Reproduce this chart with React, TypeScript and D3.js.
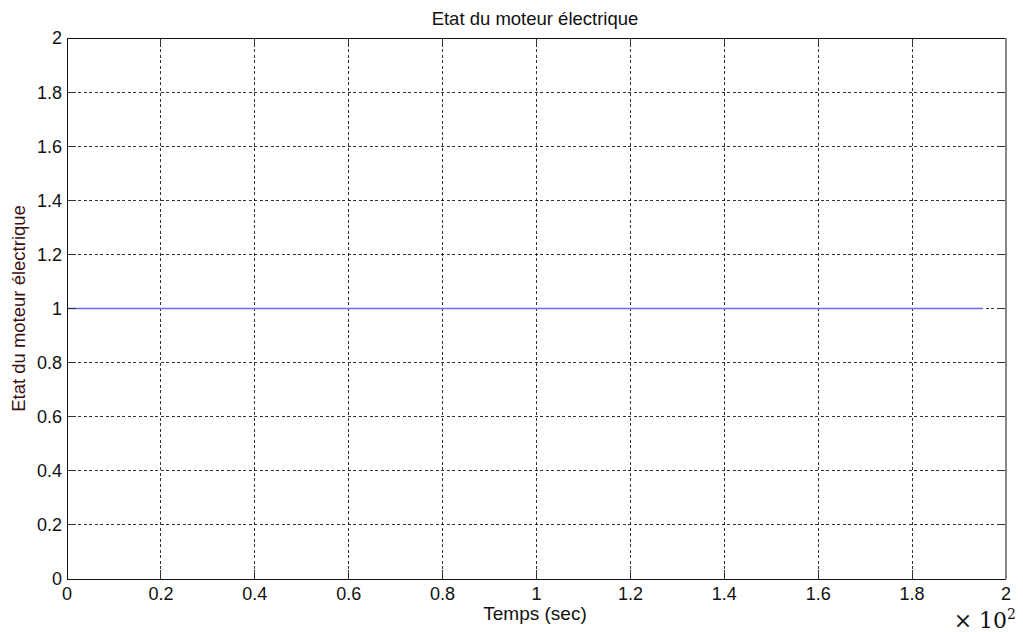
import React from "react";
import * as d3 from "d3";

const timeSec: number[] = [0, 25, 50, 75, 100, 125, 150, 175, 195];
const motorState: number[] = [1, 1, 1, 1, 1, 1, 1, 1, 1];
const xTicks: number[] = [0, 0.2, 0.4, 0.6, 0.8, 1, 1.2, 1.4, 1.6, 1.8, 2];
const yTicks: number[] = [0, 0.2, 0.4, 0.6, 0.8, 1, 1.2, 1.4, 1.6, 1.8, 2];
const titleText = "Etat du moteur électrique";
const yLabelText = "Etat du moteur électrique";
const xLabelText = "Temps (sec)";
const xScaleFactor = 100;

const W = 1023;
const H = 632;
const M = { left: 67, right: 1006, top: 38, bottom: 579 };

export default function App() {
  const x = d3.scaleLinear().domain([0, 2]).range([M.left, M.right]);
  const y = d3.scaleLinear().domain([0, 2]).range([M.bottom, M.top]);
  const pts = timeSec.map((t, i) => [t / xScaleFactor, motorState[i]] as [number, number]);
  const line = d3
    .line<[number, number]>()
    .x((d) => x(d[0]))
    .y((d) => y(d[1]));
  const font = "'Liberation Sans', Arial, Helvetica, sans-serif";
  const fmt = (v: number) => d3.format("~g")(v);
  const fs = 18;

  return (
    <svg
      width={W}
      height={H}
      style={{ position: "absolute", left: 0, top: 0, background: "#fff" }}
      fontFamily={font}
    >
      <rect x={0} y={0} width={W} height={H} fill="#fff" />
      {/* grid */}
      {xTicks.slice(1, -1).map((t) => (
        <line
          key={"gx" + t}
          x1={x(t)}
          x2={x(t)}
          y1={M.top}
          y2={M.bottom}
          stroke="#000"
          strokeWidth={0.8}
          strokeDasharray="3,2.5"
          shapeRendering="crispEdges"
        />
      ))}
      {yTicks.slice(1, -1).map((t) => (
        <line
          key={"gy" + t}
          x1={M.left}
          x2={M.right}
          y1={y(t)}
          y2={y(t)}
          stroke="#000"
          strokeWidth={0.8}
          strokeDasharray="3,2.5"
          shapeRendering="crispEdges"
        />
      ))}
      {/* data line */}
      <path d={line(pts) || ""} fill="none" stroke="#6a6af0" strokeWidth={1.5} />
      {/* tick marks */}
      {xTicks.map((t) => (
        <g key={"tx" + t}>
          <line x1={x(t)} x2={x(t)} y1={M.bottom} y2={M.bottom - 9} stroke="#333" shapeRendering="crispEdges" />
          <line x1={x(t)} x2={x(t)} y1={M.top} y2={M.top + 9} stroke="#333" shapeRendering="crispEdges" />
          <text x={x(t)} y={M.bottom + 21} textAnchor="middle" fontSize={fs} fill="#111">
            {fmt(t)}
          </text>
        </g>
      ))}
      {yTicks.map((t) => (
        <g key={"ty" + t}>
          <line x1={M.left} x2={M.left + 9} y1={y(t)} y2={y(t)} stroke="#333" shapeRendering="crispEdges" />
          <line x1={M.right} x2={M.right - 9} y1={y(t)} y2={y(t)} stroke="#333" shapeRendering="crispEdges" />
          <text x={M.left - 5} y={y(t)} dy="0.36em" textAnchor="end" fontSize={fs} fill="#111">
            {fmt(t)}
          </text>
        </g>
      ))}
      {/* axes box */}
      <line x1={M.left} x2={M.right} y1={M.top} y2={M.top} stroke="#111" shapeRendering="crispEdges" />
      <line x1={M.left} x2={M.right} y1={M.bottom} y2={M.bottom} stroke="#111" shapeRendering="crispEdges" />
      <line x1={M.left} x2={M.left} y1={M.top} y2={M.bottom} stroke="#111" shapeRendering="crispEdges" />
      <line x1={M.right} x2={M.right} y1={M.top} y2={M.bottom} stroke="#888" strokeWidth={2} shapeRendering="crispEdges" />
      {/* title */}
      <text x={535} y={25} textAnchor="middle" fontSize={18.5} fill="#111">
        {titleText}
      </text>
      {/* x label */}
      <text x={535} y={620} textAnchor="middle" fontSize={19} fill="#111">
        {xLabelText}
      </text>
      {/* y label */}
      <text
        transform={`translate(25,${(M.top + M.bottom) / 2}) rotate(-90)`}
        textAnchor="middle"
        fontSize={18.5}
        fill="#3a1010"
      >
        {yLabelText}
      </text>
      {/* exponent */}
      <text x={1016} y={628} textAnchor="end" fontSize={22} fill="#111" fontFamily="'DejaVu Serif', 'Liberation Serif', serif">
        × 10
        <tspan dy={-9} fontSize={14}>
          2
        </tspan>
      </text>
    </svg>
  );
}
